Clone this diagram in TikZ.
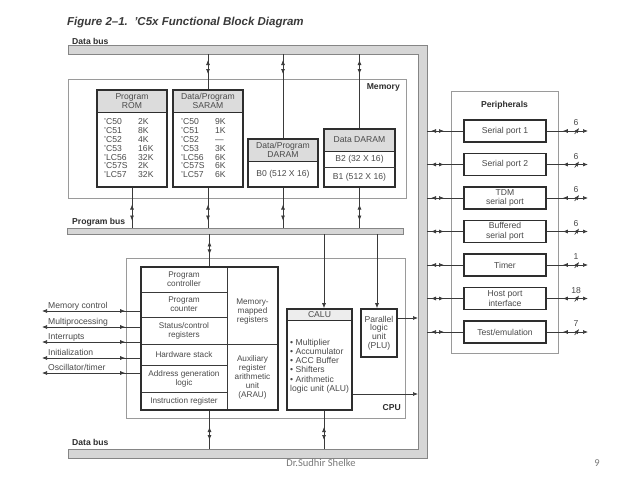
\documentclass[tikz,border=0pt]{standalone}
\usepackage{fontspec}
\setmainfont{Liberation Sans}
\newfontfamily\footfont{Carlito}
\usetikzlibrary{arrows.meta,decorations.markings}
\definecolor{blkc}{HTML}{2E2E2E}
\definecolor{areac}{HTML}{9A9A9A}
\definecolor{lnc}{HTML}{3A3A3A}
\definecolor{txtc}{HTML}{4A4A4A}
\definecolor{busfill}{HTML}{D6D6D6}
\definecolor{busline}{HTML}{858585}
\definecolor{hdrfill}{HTML}{DCDCDC}
\definecolor{titlec}{HTML}{3A3A3A}
\definecolor{footc}{HTML}{7A7A7A}
\newcommand{\fs}{\fontsize{8.6}{9}\selectfont}
\newcommand{\fss}{\fontsize{8.2}{9}\selectfont}
\newcommand{\tabfs}{\fontsize{8.6}{8.83}\selectfont}
\begin{document}
\begin{tikzpicture}[x=1pt,y=-1pt,>={Latex[length=5pt,width=4pt]},
 box/.style={draw=blkc,line width=1.7pt,inner sep=0pt,text=txtc,font=\fs,align=center},
 pbox/.style={box,minimum width=82pt,minimum height=22pt,font=\fontsize{8.6}{9.5}\selectfont},
 hdr/.style={fill=hdrfill,draw=blkc,line width=0.7pt,inner sep=0pt,text=txtc,font=\fs,align=center},
 cell/.style={draw=lnc,line width=0.6pt,inner sep=0pt,text=txtc,font=\fss,align=center},
 area/.style={draw=areac,line width=0.9pt,inner sep=0pt},
 bus/.style={fill=busfill,draw=busline,line width=0.9pt,inner sep=0pt},
 conn/.style={draw=lnc,line width=0.7pt},
 bio/.style 2 args={conn,postaction={decorate},decoration={markings,mark=at position #1 with {\arrowreversed{>}},mark=at position #2 with {\arrow{>}}}},
 sig/.style={conn,->,postaction={decorate},decoration={markings,mark=at position 15pt with {\arrowreversed{>}}}},
 pout/.style={conn,->,postaction={decorate},decoration={markings,mark=at position 16pt with {\arrowreversed{>}},mark=at position 30pt with {\draw[line width=0.6pt] (-2.2pt,-3pt) -- (2.2pt,3pt);}}},
 lbl/.style={font=\bfseries\fs,text=blkc,inner sep=0pt},
 txt/.style={font=\fs,text=txtc,inner sep=0pt},
]
\fill[white] (0,0) rectangle (638,479);
\useasboundingbox (0,0) rectangle (638,479);

% title
\node[anchor=west,font=\bfseries\itshape\fontsize{11.5}{13}\selectfont,text=titlec,inner sep=0pt] (title) at (67,22.5) {Figure 2–1.\ \ 'C5x Functional Block Diagram};

% data bus
\path[bus] (68,45) -- (427,45) -- (427,458) -- (68,458) -- (68,449) -- (418,449) -- (418,54) -- (68,54) -- cycle;
\coordinate (dbT) at (0,54);
\coordinate (dbR) at (418,0);
\coordinate (dbRo) at (427,0);
\coordinate (dbB) at (0,449);
\node[lbl,anchor=base west] (dbl1) at (72,44) {Data bus};
\node[lbl,anchor=base west] (dbl2) at (72,445) {Data bus};

% memory
\node[area,minimum width=338pt,minimum height=119pt] (mem) at (237,138.5) {};
\node[lbl,anchor=east] (meml) at (400,87) {Memory};

% program bus
\node[bus,minimum width=336pt,minimum height=6pt] (pbus) at (235,231) {};
\node[lbl,anchor=base west] (pbl) at (72,224) {Program bus};

% ROM
\node[hdr,minimum width=70pt,minimum height=22pt] (romh) at (132,101) {Program\\ROM};
\node[box,minimum width=70pt,minimum height=97pt] (rom) at (132,138.5) {};
\node[txt,anchor=west] (romt) at (104,149.5) {\tabfs\begin{tabular}{@{}p{34pt}@{}l@{}}'C50&2K\\'C51&8K\\'C52&4K\\'C53&16K\\'LC56&32K\\'C57S&2K\\'LC57&32K\end{tabular}};

% SARAM
\node[hdr,minimum width=70pt,minimum height=22pt] (sarh) at (208,101) {Data/Program\\SARAM};
\node[box,minimum width=70pt,minimum height=97pt] (sar) at (208,138.5) {};
\node[txt,anchor=west] (sart) at (181,149.5) {\tabfs\begin{tabular}{@{}p{34pt}@{}l@{}}'C50&9K\\'C51&1K\\'C52&—\\'C53&3K\\'LC56&6K\\'C57S&6K\\'LC57&6K\end{tabular}};

% DARAM
\node[hdr,minimum width=70pt,minimum height=22pt] (darh) at (283,150) {Data/Program\\DARAM};
\node[box,minimum width=70pt,minimum height=48pt] (dar) at (283,163) {};
\node[txt] (dart) at (283,174.5) {B0 (512 X 16)};

% Data DARAM
\node[hdr,minimum width=71pt,minimum height=22pt] (ddrh) at (359.5,140) {Data DARAM};
\node[box,minimum width=71pt,minimum height=58pt] (ddr) at (359.5,158) {};
\node[txt] (ddr2) at (359.5,159) {B2 (32 X 16)};
\node[txt] (ddr1) at (359.5,177) {B1 (512 X 16)};
\coordinate (sepy) at (0,167);
\draw[conn] (ddr.west |- sepy) -- (ddr.east |- sepy);

% memory connectors
\draw[bio={6pt}{20pt}] (sar.north |- dbT) -- (sar.north);
\draw[bio={6pt}{20pt}] (dar.north |- dbT) -- (dar.north);
\draw[bio={6pt}{20pt}] (ddr.north |- dbT) -- (ddr.north);
\draw[bio={7pt}{23pt}] (rom.south |- pbus.north) -- (rom.south);
\draw[bio={7pt}{23pt}] (sar.south |- pbus.north) -- (sar.south);
\draw[bio={7pt}{23pt}] (dar.south |- pbus.north) -- (dar.south);
\draw[bio={7pt}{23pt}] (ddr.south |- pbus.north) -- (ddr.south);

% peripherals
\node[area,minimum width=107pt,minimum height=262pt] (per) at (504.5,222) {};
\node[lbl] (perl) at (504.5,105) {Peripherals};
\node[pbox] (pa1) at (505,131) {Serial port 1};
\node[pbox] (pa2) at (505,164.5) {Serial port 2};
\node[pbox] (pa3) at (505,198) {TDM\\serial port};
\node[pbox] (pa4) at (505,231.5) {Buffered\\serial port};
\node[pbox] (pa5) at (505,265) {Timer};
\node[pbox] (pa6) at (505,298.5) {Host port\\interface};
\node[pbox] (pa7) at (505,332) {Test/emulation};
\coordinate (o1) at (588,131);
\coordinate (o2) at (588,164.5);
\coordinate (o3) at (588,198);
\coordinate (o4) at (588,231.5);
\coordinate (o5) at (588,265);
\coordinate (o6) at (588,298.5);
\coordinate (o7) at (588,332);
\draw[bio={4pt}{17pt}] (dbRo |- pa1.west) -- (pa1.west);
\draw[bio={4pt}{17pt}] (dbRo |- pa2.west) -- (pa2.west);
\draw[bio={4pt}{17pt}] (dbRo |- pa3.west) -- (pa3.west);
\draw[bio={4pt}{17pt}] (dbRo |- pa4.west) -- (pa4.west);
\draw[bio={4pt}{17pt}] (dbRo |- pa5.west) -- (pa5.west);
\draw[bio={4pt}{17pt}] (dbRo |- pa6.west) -- (pa6.west);
\draw[bio={4pt}{17pt}] (dbRo |- pa7.west) -- (pa7.west);
\draw[pout] (pa1.east) -- node[txt,pos=0.71,above=5pt] {6} (o1);
\draw[pout] (pa2.east) -- node[txt,pos=0.71,above=5pt] {6} (o2);
\draw[pout] (pa3.east) -- node[txt,pos=0.71,above=5pt] {6} (o3);
\draw[pout] (pa4.east) -- node[txt,pos=0.71,above=5pt] {6} (o4);
\draw[pout] (pa5.east) -- node[txt,pos=0.71,above=5pt] {1} (o5);
\draw[pout] (pa6.east) -- node[txt,pos=0.71,above=5pt] {18} (o6);
\draw[pout] (pa7.east) -- node[txt,pos=0.71,above=5pt] {7} (o7);

% CPU
\node[area,minimum width=279pt,minimum height=160pt] (cpu) at (265.5,338) {};
\node[lbl,anchor=east] (cpul) at (401,408) {CPU};
\node[cell,minimum width=86pt,minimum height=25pt] (c1) at (184,279.5) {Program\\controller};
\node[cell,minimum width=86pt,minimum height=25pt] (c2) at (184,304.5) {Program\\counter};
\node[cell,minimum width=86pt,minimum height=27pt] (c3) at (184,330.5) {Status/control\\registers};
\node[cell,minimum width=86pt,minimum height=21pt] (c4) at (184,354.5) {Hardware stack};
\node[cell,minimum width=86pt,minimum height=27pt] (c5) at (184,378.5) {Address generation\\logic};
\node[cell,minimum width=86pt,minimum height=18pt] (c6) at (184,401) {Instruction register};
\node[cell,minimum width=51pt,minimum height=77pt] (mmr) at (252.5,305.5) {};
\node[txt,font=\fss,align=center] (mmrt) at (252.5,312) {Memory-\\mapped\\registers};
\node[cell,minimum width=51pt,minimum height=66pt] (arau) at (252.5,377) {Auxiliary\\register\\arithmetic\\unit\\(ARAU)};
\node[box,minimum width=137pt,minimum height=143pt] (ctrl) at (209.5,338.5) {};

% CALU
\node[hdr,minimum width=65pt,minimum height=11pt,fill=hdrfill!50] (caluh) at (319.5,314.5) {CALU};
\node[box,minimum width=65pt,minimum height=101pt] (calu) at (319.5,359.5) {};
\node[txt,anchor=west,align=left,font=\fontsize{8.6}{9.2}\selectfont] (calut) at (290,366) {• Multiplier\\• Accumulator\\• ACC Buffer\\• Shifters\\• Arithmetic\\logic unit (ALU)};

% PLU
\node[box,minimum width=36pt,minimum height=48pt,font=\fontsize{8.6}{8.8}\selectfont] (plu) at (379,333) {Parallel\\logic\\unit\\(PLU)};

% CPU connectors
\coordinate (cx) at (324,0);
\coordinate (px) at (377,0);
\coordinate (py) at (0,318);
\coordinate (cy) at (0,394);
\draw[bio={7pt}{20pt}] (ctrl.north |- pbus.south) -- (ctrl.north);
\draw[bio={9pt}{22pt}] (ctrl.south |- dbB) -- (ctrl.south);
\draw[bio={9pt}{22pt}] (cx |- dbB) -- (cx |- calu.south);
\draw[conn,->] (cx |- pbus.south) -- (cx |- calu.north);
\draw[conn,->] (px |- pbus.south) -- (px |- plu.north);
\draw[conn,->] (plu.east |- py) -- (dbR |- py);
\draw[conn,->] (calu.east |- cy) -- (dbR |- cy);

% external CPU signals
\coordinate (s1) at (42,311);
\coordinate (s2) at (42,327);
\coordinate (s3) at (42,342);
\coordinate (s4) at (42,358);
\coordinate (s5) at (42,373);
\draw[sig] (ctrl.west |- s1) -- (s1);
\draw[sig] (ctrl.west |- s2) -- (s2);
\draw[sig] (ctrl.west |- s3) -- (s3);
\draw[sig] (ctrl.west |- s4) -- (s4);
\draw[sig] (ctrl.west |- s5) -- (s5);
\node[txt,anchor=base west] (s1l) at (48,308) {Memory control};
\node[txt,anchor=base west] (s2l) at (48,324) {Multiprocessing};
\node[txt,anchor=base west] (s3l) at (48,339) {Interrupts};
\node[txt,anchor=base west] (s4l) at (48,355) {Initialization};
\node[txt,anchor=base west] (s5l) at (48,370) {Oscillator/timer};

% footer
\node[font=\footfont\fontsize{10.5}{12}\selectfont,text=footc,inner sep=0pt] (foot) at (321,463) {Dr.Sudhir Shelke};
\node[font=\footfont\fontsize{10.5}{12}\selectfont,text=footc,inner sep=0pt] (pg) at (597,463) {9};
\end{tikzpicture}
\end{document}
